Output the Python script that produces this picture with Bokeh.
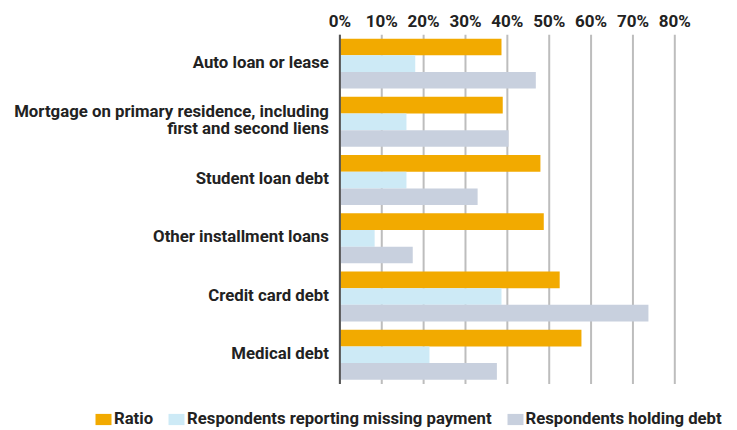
from bokeh.plotting import figure
from bokeh.models import Range1d, Legend, LegendItem, ColumnDataSource, PrintfTickFormatter, FixedTicker
from bokeh.core.properties import value
from bokeh.transform import dodge
from bokeh.embed import file_html
from bokeh.resources import INLINE

categories = [
    "Auto loan or lease",
    "Mortgage on primary residence, including\nfirst and second liens",
    "Student loan debt",
    "Other installment loans",
    "Credit card debt",
    "Medical debt",
]
ratio = [38.6, 38.9, 47.9, 48.7, 52.5, 57.7]
missing = [18.0, 15.9, 15.9, 8.3, 38.6, 21.4]
holding = [46.8, 40.3, 32.9, 17.4, 73.7, 37.5]
x_ticks = [0, 10, 20, 30, 40, 50, 60, 70, 80]
series_names = ["Ratio", "Respondents reporting missing payment", "Respondents holding debt"]

bar_colors = ["#F2AA00", "#CDEAF6", "#C8D0DE"]
FONT = "Roboto"

# layout constants (screen pixels)
W, H = 737, 430
X0_PX, X80_PX = 339.4, 674.3      # where 0% and 80% fall
TOP_PX, BOT_PX = 34.2, 383.4      # top/bottom of the category band

n = len(categories)
ypos = [n - 1 - i for i in range(n)]
src = ColumnDataSource(dict(cat=categories, y=ypos, zero=[0] * n,
                            ratio=ratio, missing=missing, holding=holding))

xmax = x_ticks[-1]
ppu_x = (X80_PX - X0_PX) / xmax
x_start = -X0_PX / ppu_x
x_end = xmax + (W - X80_PX) / ppu_x
ppu_y = (BOT_PX - TOP_PX) / n
y_end = n - 0.5
y_start = y_end - (H - TOP_PX) / ppu_y

p = figure(
    width=W, height=H,
    x_range=Range1d(x_start, x_end), y_range=Range1d(y_start, y_end),
    x_axis_location="above", y_axis_type=None,
    output_backend="svg", toolbar_location=None,
    min_border_left=0, min_border_right=0, min_border_top=int(round(TOP_PX)), min_border_bottom=0,
)

# vertical grid lines, limited to the category band
gsrc = ColumnDataSource(dict(x=x_ticks, lo=[-0.5] * len(x_ticks), hi=[n - 0.5] * len(x_ticks)))
p.segment(x0="x", x1="x", y0="lo", y1="hi", source=gsrc, line_color="#BDBDBD", line_width=2)

bh = 0.286
cols = ["ratio", "missing", "holding"]
offsets = [bh, 0.0, -bh]
items = []
for col, off, c, name in zip(cols, offsets, bar_colors, series_names):
    r = p.hbar(y=dodge("y", off), right=col, left="zero", height=bh,
               source=src, fill_color=c, line_color=None)
    items.append(LegendItem(label=name, renderers=[r]))

# value axis line at 0
p.segment(x0=x_ticks[0], x1=x_ticks[0], y0=-0.5, y1=n - 0.5, line_color="#555555", line_width=2)

# category labels
p.text(x="zero", y="y", text="cat", source=src, x_offset=-11, y_offset=-2,
       text_align="right", text_baseline="middle",
       text_font=value(FONT), text_font_style="bold", text_font_size="16.8px",
       text_color="#222222", text_line_height=0.86)

legend = Legend(items=items, orientation="horizontal", location=(93, 2),
                glyph_width=20, glyph_height=14, label_standoff=1, spacing=13,
                padding=0, margin=0, border_line_color=None, background_fill_alpha=0,
                label_text_font=FONT, label_text_font_style="bold",
                label_text_font_size="16.7px", label_text_color="#222222")
p.add_layout(legend, "center")

xa = p.xaxis[0]
xa.ticker = FixedTicker(ticks=x_ticks)
xa.formatter = PrintfTickFormatter(format="%d%%")
xa.axis_line_color = None
xa.major_tick_line_color = None
xa.minor_tick_line_color = None
xa.major_label_text_font = FONT
xa.major_label_text_font_style = "bold"
xa.major_label_text_font_size = "17px"
xa.major_label_text_color = "#222222"
xa.major_label_standoff = -2

p.xgrid.grid_line_color = None
p.ygrid.grid_line_color = None
p.outline_line_color = None

open("out.html", "w").write(file_html(p, INLINE))
